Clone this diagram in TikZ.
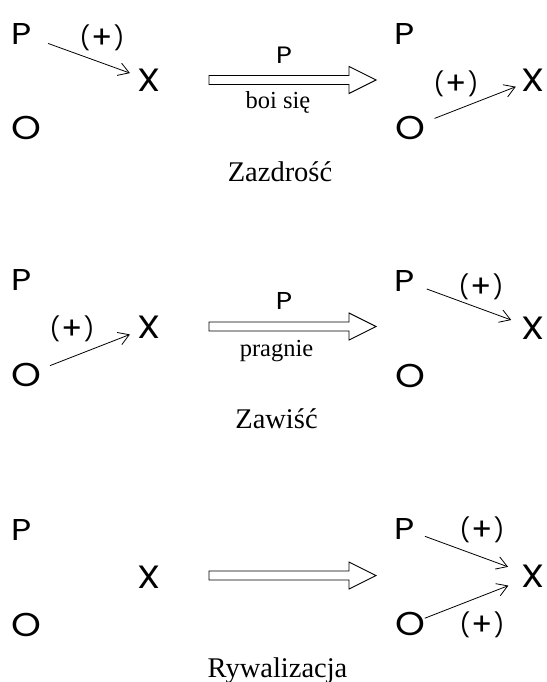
\documentclass[tikz,border=0pt]{standalone}
\usepackage{fontspec}
\setmainfont{Liberation Serif}
\newfontfamily\lettfont{Poppins}
\usetikzlibrary{arrows.meta,calc}
% letter scaled to a given total height, and widened
\newcommand{\lett}[2]{\resizebox*{!}{#1}{\lettfont\scalebox{1.15}[1]{#2}}}
\newcommand{\plustext}{\resizebox*{!}{26pt}{\lettfont(\kern0.5pt\raisebox{-0.09em}{\scalebox{1.35}{+}}\kern0.5pt)}}
\begin{document}
\begin{tikzpicture}[x=1pt,y=-1pt,
 lett/.style={inner sep=0pt},
 plus/.style={inner sep=0pt},
 rel/.style={line width=0.8pt, -{Straight Barb[length=10.5pt,width=13pt]}},
 big/.style={line width=0.9pt, line join=miter},
 small/.style={font=\fontsize{24.5}{24.5}\selectfont, anchor=base, inner sep=0pt},
 capt/.style={font=\fontsize{28.5}{28.5}\selectfont, anchor=base, inner sep=0pt},
 overp/.style={inner sep=0pt}
]
\useasboundingbox (0,0) rectangle (546,682);
\fill[white] (0,0) rectangle (546,682);

% ---------- Panel 1 ----------
\node[lett] (P1) at (22,34) {\lett{21pt}{P}};
\node[lett] (X1) at (149,80) {\lett{22.5pt}{X}};
\node[lett] (O1) at (26,128) {\lett{23.5pt}{O}};
\node[lett] (P1r) at (405,34) {\lett{21pt}{P}};
\node[lett] (X1r) at (533,80) {\lett{22.5pt}{X}};
\node[lett] (O1r) at (410,128) {\lett{23.5pt}{O}};
\draw[rel] ($(P1)!0.205!(X1)$) -- ($(P1)!0.85!(X1)$);
\node[plus] (s1) at (102,37.5) {\plustext};
\draw[rel] ($(O1r)!0.2!(X1r)$) -- ($(O1r)!0.86!(X1r)$);
\node[plus] (s2) at (456,83.5) {\plustext};
\coordinate (A1) at (209,80);
\draw[big] (A1) ++(0,-4.5) -- ++(140,0) -- ++(0,-9) -- ++(27,13.5) -- ++(-27,13.5) -- ++(0,-9) -- ++(-140,0) -- cycle;
\node[overp] (a1p) at (284,55) {\lett{16.5pt}{P}};
\node[small] (a1t) at (278,109) {boi się};
\node[capt] (c1) at (280,181) {Zazdrość};

% ---------- Panel 2 ----------
\node[lett] (P2) at (22,280) {\lett{21pt}{P}};
\node[lett] (X2) at (149,327) {\lett{22.5pt}{X}};
\node[lett] (O2) at (26,375) {\lett{23.5pt}{O}};
\node[lett] (P2r) at (405,281) {\lett{21pt}{P}};
\node[lett] (X2r) at (533,328) {\lett{22.5pt}{X}};
\node[lett] (O2r) at (410,376) {\lett{23.5pt}{O}};
\draw[rel] ($(O2)!0.195!(X2)$) -- ($(O2)!0.845!(X2)$);
\node[plus] (s3) at (72,328.5) {\plustext};
\draw[rel] ($(P2r)!0.17!(X2r)$) -- ($(P2r)!0.83!(X2r)$);
\node[plus] (s4) at (481,287) {\plustext};
\coordinate (A2) at (209,326.5);
\draw[big] (A2) ++(0,-4.5) -- ++(140,0) -- ++(0,-9) -- ++(27,13.5) -- ++(-27,13.5) -- ++(0,-9) -- ++(-140,0) -- cycle;
\node[overp] (a2p) at (284,301) {\lett{17pt}{P}};
\node[small] (a2t) at (276.5,356) {pragnie};
\node[capt] (c2) at (276.5,428) {Zawiść};

% ---------- Panel 3 ----------
\node[lett] (P3) at (22,530) {\lett{21pt}{P}};
\node[lett] (X3) at (149,577) {\lett{22.5pt}{X}};
\node[lett] (O3) at (26,625) {\lett{23.5pt}{O}};
\node[lett] (P3r) at (405,529) {\lett{21pt}{P}};
\node[lett] (X3r) at (533,576) {\lett{22.5pt}{X}};
\node[lett] (O3r) at (410,624) {\lett{23.5pt}{O}};
\draw[rel] ($(P3r)!0.156!(X3r)$) -- ($(P3r)!0.805!(X3r)$);
\draw[rel] ($(O3r)!0.12!(X3r)$) -- ($(O3r)!0.8!(X3r)$);
\node[plus] (s5) at (482,530) {\plustext};
\node[plus] (s6) at (482,625) {\plustext};
\coordinate (A3) at (209,575.5);
\draw[big] (A3) ++(0,-4.5) -- ++(140,0) -- ++(0,-9) -- ++(27,13.5) -- ++(-27,13.5) -- ++(0,-9) -- ++(-140,0) -- cycle;
\node[capt] (c3) at (277.5,677) {Rywalizacja};
\end{tikzpicture}
\end{document}
